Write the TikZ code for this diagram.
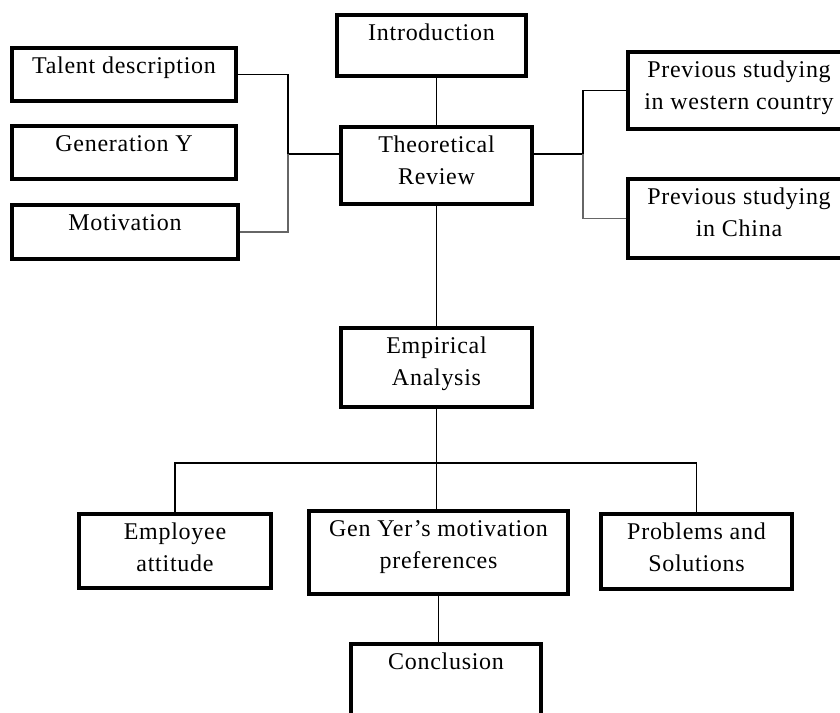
\documentclass[tikz,border=0pt]{standalone}
\usepackage{fontspec}
\setmainfont{Liberation Serif}[LetterSpace=3]
\usetikzlibrary{positioning,calc}
\newlength\pxu
\setlength\pxu{0.75pt}
% text sits at the top of each box
\newcommand{\boxtext}[3]{\parbox[c][#2\pxu][t]{#1\pxu}{\centering\rule{0pt}{19pt}#3}}

\begin{document}
\begin{tikzpicture}[x=0.75pt, y=-0.75pt,
  box/.style={draw, line width=2.6pt, inner sep=0pt, fill=white, font=\fontsize{18}{24}\selectfont},
  conn/.style={line width=1.2pt},
  connlight/.style={conn, gray!80!black}
]
  \useasboundingbox (0,0) rectangle (840,713);
  \clip (0,0) rectangle (840,713);
  % top row
  \node[box] (intro) at (431.5, 45.5) {\boxtext{189}{61}{Introduction}};
  \node[box] (talent) at (124, 74.5) {\boxtext{224}{53}{Talent description}};
  \node[box] (geny) at (124, 152.5) {\boxtext{224}{53}{Generation Y}};
  \node[box] (motiv) at (125, 232) {\boxtext{226}{54}{Motivation}};
  \node[box] (theo) at (436.5, 165.5) {\boxtext{191}{77}{Theoretical\\Review}};
  \node[box] (west) at (739, 90.5) {\boxtext{222}{77}{Previous studying\\in western country}};
  \node[box] (china) at (739, 218.5) {\boxtext{222}{79}{Previous studying\\in China}};
  % analysis part
  \node[box] (emp) at (436.5, 367.5) {\boxtext{191}{79}{Empirical\\Analysis}};
  \node[box] (employee) at (175, 551) {\boxtext{192}{74}{Employee\\attitude}};
  \node[box] (genyer) at (438.5, 552.5) {\boxtext{259}{83}{Gen Yer's motivation\\preferences}};
  \node[box] (problems) at (696.5, 551.5) {\boxtext{191}{75}{Problems and\\Solutions}};
  \node[box] (concl) at (446, 682.5) {\boxtext{190}{77}{Conclusion}};

  \coordinate (lbus) at (288, 154);
  \coordinate (rbus) at (583, 154);
  \coordinate (split) at (437, 463);

  \draw[conn] (theo.north) -- (theo.north |- intro.south);
  \draw[conn] (theo.south) -- (emp.north);
  \draw[conn] (talent.east) -| (lbus) -- (theo.west |- lbus);
  \draw[connlight] (motiv.east) -| (lbus);
  \draw[conn] (theo.east |- rbus) -- (rbus);
  \draw[conn] (west.west) -| (rbus);
  \draw[connlight] (china.west) -| (rbus);
  \draw[conn] (emp.south) -- (emp.south |- genyer.north);
  \draw[conn] (employee.north) |- (split) -| (problems.north);
  \draw[conn] (genyer.south) -- (genyer.south |- concl.north);
\end{tikzpicture}
\end{document}
